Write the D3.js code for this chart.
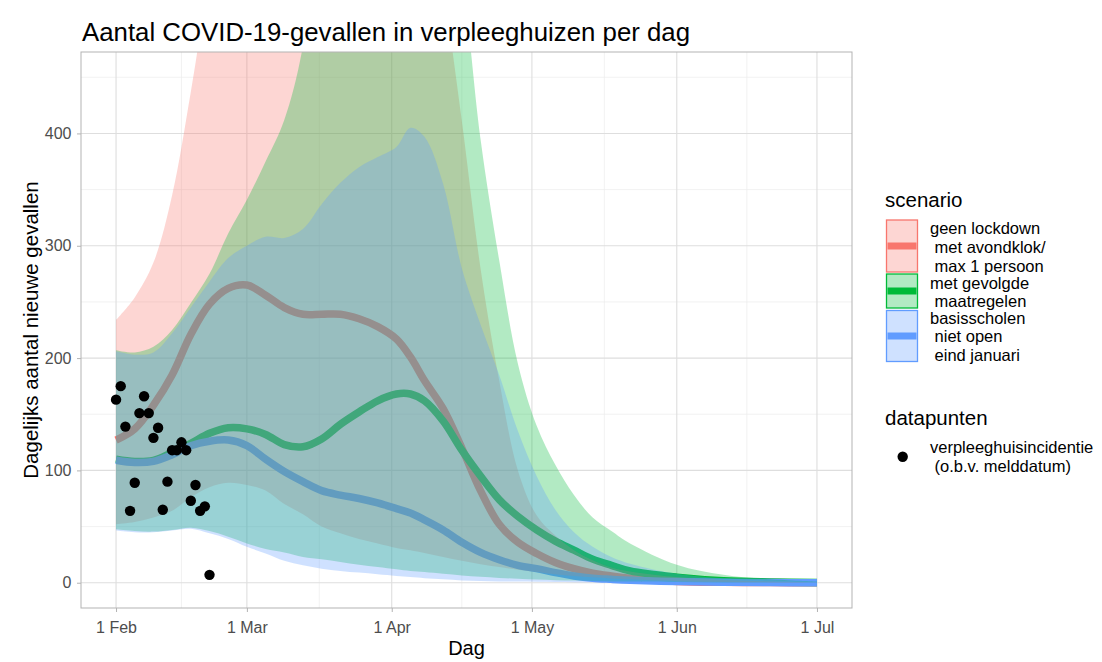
<!DOCTYPE html>
<html>
<head>
<meta charset="utf-8">
<script src="https://cdn.jsdelivr.net/npm/d3@7"></script>
<style>
  body { margin: 0; background: #fff; }
  svg { font-family: "Liberation Sans", Arial, Helvetica, sans-serif; }
</style>
</head>
<body>
<svg id="chart"></svg>
<script>
let width = 1102,
  height = 662;

// dagen na 1 februari 2021
const days = [0, 4, 8, 12, 16, 20, 24, 28, 32, 36, 40, 44, 48, 52, 56, 60, 63, 66,
  70, 74, 78, 82, 86, 90, 94, 98, 102, 106, 110, 120, 130, 140, 150];

// scenario: geen lockdown met avondklok / max 1 persoon
const redMean = [127, 137, 158, 185, 221, 248, 262, 265, 256, 245, 239, 239, 239, 235, 228, 217, 201, 180,
  155, 120, 82, 52, 36, 26, 18, 12.5, 8.5, 6, 4, 1.2, 0.4, 0.1, 0];
const redLow = [52, 54, 58, 64, 76, 85, 89, 87, 82, 70, 61, 50, 44, 39, 35, 31, 29, 26.5,
  23, 19.5, 16.5, 14, 11.5, 9.5, 7.5, 6, 4.8, 3.8, 3, 1.4, 0.6, 0.3, 0.1];
const redHigh = [234, 254, 285, 345, 437, 540, 620, 620, 620, 620, 620, 620, 620, 620, 620, 620, 620, 620,
  530, 411, 280, 180, 100, 60, 42, 29, 20, 13.5, 10, 5, 2.5, 1.2, 0.5];

// scenario: met gevolgde maatregelen
const greenMean = [110, 108, 109, 116, 124, 133, 138, 137, 132, 123, 121, 128, 141, 152, 162, 168, 168, 162,
  144, 118, 95, 74, 59, 47, 37, 29, 21, 15.5, 10.5, 5, 1.8, 0.7, 0.2];
const greenLow = [47.5, 46, 45.5, 47, 49, 46, 41, 35, 30, 27, 23, 21, 18.5, 16, 14, 12, 10.5, 9.5,
  8, 6.5, 5.3, 4.3, 3.5, 2.8, 2.3, 1.9, 1.5, 1.2, 1, 0.6, 0.3, 0.15, 0.05];
const greenHigh = [207, 205, 210, 225, 249, 275, 311, 341, 375, 412, 478, 620, 620, 620, 620, 620, 620, 620,
  620, 540, 395, 287, 195, 140, 105, 78, 58, 46, 35, 16, 7, 3, 1];

// scenario: basisscholen niet open eind januari
const blueMean = [109, 107, 108, 114, 122, 126, 127, 122, 110, 99, 90, 82, 78, 75, 71, 66, 62, 56,
  47, 36, 27, 20.5, 15.5, 12.5, 9, 6, 4, 3, 2.2, 1, 0.4, 0.15, 0];
const blueLow = [46.5, 45, 45, 46.5, 48, 44, 39, 32, 26, 19.5, 15.5, 12.5, 10.5, 9, 7.5, 6, 5, 4,
  3, 2, 1.5, 1.2, 1, 0.8, 0.6, 0.5, 0.4, 0.3, 0.2, 0.1, 0.05, 0, 0];
const blueHigh = [206, 203, 205, 222, 245, 268, 289, 300, 308, 307, 315, 337, 356, 370, 379, 388, 405, 397,
  355, 280, 230, 185, 135, 95, 65, 45, 32, 23, 17, 8, 4, 2, 1];

// datapunten: verpleeghuisincidentie (o.b.v. melddatum)
const pointDays = [0, 1, 2, 3, 4, 5, 6, 7, 8, 9, 10, 11, 12, 13, 14, 15, 16, 17, 18, 19, 20];
const pointValues = [163, 175, 139, 64, 89, 151, 166, 151, 129, 138, 65, 90, 118, 118, 125, 118,
  73, 87, 64, 68, 7];

const scenarioLabels = [
  ["geen lockdown", " met avondklok/", " max 1 persoon"],
  ["met gevolgde", " maatregelen"],
  ["basisscholen", " niet open", " eind januari"],
];
const scenarioColors = ["#F8766D", "#00BA38", "#619CFF"];

const xTickDates = ["2021-02-01", "2021-03-01", "2021-04-01", "2021-05-01", "2021-06-01", "2021-07-01"];
const xTickLabels = ["1 Feb", "1 Mar", "1 Apr", "1 May", "1 Jun", "1 Jul"];
const yTicks = [0, 100, 200, 300, 400];
const yMinor = [50, 150, 250, 350, 450];

const series = [
  { mean: redMean, low: redLow, high: redHigh },
  { mean: greenMean, low: greenLow, high: greenHigh },
  { mean: blueMean, low: blueLow, high: blueHigh },
];

const feb1 = Date.UTC(2021, 1, 1);
const dayDate = (d) => new Date(feb1 + d * 864e5);

let svg = d3.select("#chart").attr("width", width).attr("height", height);

const panel = { left: 81, right: 852, top: 52, bottom: 608 };

let x = d3
  .scaleUtc()
  .domain([dayDate(-7.5), dayDate(157.5)])
  .range([panel.left, panel.right]);
let y = d3
  .scaleLinear()
  .domain([-22.5, 472.5])
  .range([panel.bottom, panel.top]);

const majorX = xTickDates.map((s) => new Date(s + "T00:00:00Z"));
const minorX = d3.pairs(majorX).map(([a, b]) => new Date((+a + +b) / 2));

// Grid
let grid = svg.append("g").attr("id", "grid");
grid
  .selectAll(".minx")
  .data(minorX)
  .enter()
  .append("line")
  .attr("x1", (d) => x(d))
  .attr("x2", (d) => x(d))
  .attr("y1", panel.top)
  .attr("y2", panel.bottom)
  .attr("stroke", "#ececec")
  .attr("stroke-width", 0.7);
grid
  .selectAll(".miny")
  .data(yMinor)
  .enter()
  .append("line")
  .attr("x1", panel.left)
  .attr("x2", panel.right)
  .attr("y1", (d) => y(d))
  .attr("y2", (d) => y(d))
  .attr("stroke", "#ececec")
  .attr("stroke-width", 0.7);
grid
  .selectAll(".majx")
  .data(majorX)
  .enter()
  .append("line")
  .attr("x1", (d) => x(d))
  .attr("x2", (d) => x(d))
  .attr("y1", panel.top)
  .attr("y2", panel.bottom)
  .attr("stroke", "#dedede")
  .attr("stroke-width", 1.1);
grid
  .selectAll(".majy")
  .data(yTicks)
  .enter()
  .append("line")
  .attr("x1", panel.left)
  .attr("x2", panel.right)
  .attr("y1", (d) => y(d))
  .attr("y2", (d) => y(d))
  .attr("stroke", "#dedede")
  .attr("stroke-width", 1.1);

// Clip
svg
  .append("defs")
  .append("clipPath")
  .attr("id", "clip")
  .append("rect")
  .attr("x", panel.left)
  .attr("y", panel.top)
  .attr("width", panel.right - panel.left)
  .attr("height", panel.bottom - panel.top);

let plot = svg.append("g").attr("clip-path", "url(#clip)");

let line = d3
  .line()
  .x((d, i) => x(dayDate(days[i])))
  .y((d) => y(d))
  .curve(d3.curveCatmullRom.alpha(0.5));

let area = d3
  .area()
  .x((d) => x(dayDate(d.day)))
  .y0((d) => y(d.low))
  .y1((d) => y(d.high))
  .curve(d3.curveCatmullRom.alpha(0.5));

// Lines first, ribbons on top (as in the original)
series.forEach((s, i) => {
  plot
    .append("path")
    .attr("d", line(s.mean))
    .attr("fill", "none")
    .attr("stroke", scenarioColors[i])
    .attr("stroke-width", 7.5);
});

series.forEach((s, i) => {
  let rows = days.map((d, j) => ({ day: d, low: s.low[j], high: s.high[j] }));
  plot
    .append("path")
    .attr("d", area(rows))
    .attr("fill", scenarioColors[i])
    .attr("fill-opacity", 0.3);
});

// Data points
svg
  .append("g")
  .selectAll("circle")
  .data(pointDays)
  .enter()
  .append("circle")
  .attr("cx", (d) => x(dayDate(d)))
  .attr("cy", (d, i) => y(pointValues[i]))
  .attr("r", 5.2)
  .attr("fill", "black");

// Panel border
svg
  .append("rect")
  .attr("x", panel.left)
  .attr("y", panel.top)
  .attr("width", panel.right - panel.left)
  .attr("height", panel.bottom - panel.top)
  .attr("fill", "none")
  .attr("stroke", "#b3b3b3")
  .attr("stroke-width", 1);

// Axes
let xAxis = svg
  .append("g")
  .attr("transform", "translate(0," + panel.bottom + ")")
  .call(
    d3
      .axisBottom(x)
      .tickValues(majorX)
      .tickFormat((d, i) => xTickLabels[i])
      .tickSize(4)
      .tickPadding(10)
  );
let yAxis = svg
  .append("g")
  .attr("transform", "translate(" + panel.left + ",0)")
  .call(d3.axisLeft(y).tickValues(yTicks).tickSize(4).tickPadding(5.5));

[xAxis, yAxis].forEach((a) => {
  a.select(".domain").remove();
  a.selectAll(".tick line").attr("stroke", "#b3b3b3");
  a.selectAll(".tick text")
    .attr("fill", "#4d4d4d")
    .style("font-size", "16px")
    .style("font-family", "'Liberation Sans', Arial, sans-serif");
});

// Titles
svg
  .append("text")
  .attr("x", 82)
  .attr("y", 41)
  .style("font-size", "25.8px")
  .text("Aantal COVID-19-gevallen in verpleeghuizen per dag");

svg
  .append("text")
  .attr("x", (panel.left + panel.right) / 2)
  .attr("y", 655)
  .attr("text-anchor", "middle")
  .style("font-size", "20px")
  .text("Dag");

svg
  .append("text")
  .attr("transform", "translate(38," + (panel.top + panel.bottom) / 2 + ") rotate(-90)")
  .attr("text-anchor", "middle")
  .style("font-size", "20.5px")
  .text("Dagelijks aantal nieuwe gevallen");

// Legend
let legend = svg.append("g").attr("id", "legend");
legend
  .append("text")
  .attr("x", 885)
  .attr("y", 207)
  .style("font-size", "20.5px")
  .text("scenario");

const keyTops = [220, 274, 310.5];
const keyHeights = [52, 34, 51];
const labelBase = [[234.3, 253, 271.5], [288.5, 307], [323.5, 342, 360.5]];

scenarioLabels.forEach((lines, i) => {
  legend
    .append("rect")
    .attr("x", 886.5)
    .attr("y", keyTops[i])
    .attr("width", 31)
    .attr("height", keyHeights[i])
    .attr("fill", scenarioColors[i])
    .attr("fill-opacity", 0.3)
    .attr("stroke", scenarioColors[i])
    .attr("stroke-width", 1.3);
  legend
    .append("line")
    .attr("x1", 887.5)
    .attr("x2", 916.5)
    .attr("y1", keyTops[i] + keyHeights[i] / 2)
    .attr("y2", keyTops[i] + keyHeights[i] / 2)
    .attr("stroke", scenarioColors[i])
    .attr("stroke-width", 7);
  lines.forEach((t, j) => {
    legend
      .append("text")
      .attr("x", 930)
      .attr("y", labelBase[i][j])
      .style("font-size", "16.5px")
      .style("white-space", "pre")
      .text(t);
  });
});

legend
  .append("text")
  .attr("x", 885)
  .attr("y", 425)
  .style("font-size", "20.5px")
  .text("datapunten");
legend
  .append("circle")
  .attr("cx", 902.7)
  .attr("cy", 456.7)
  .attr("r", 5.2)
  .attr("fill", "black");
["verpleeghuisincidentie", " (o.b.v. melddatum)"].forEach((t, j) => {
  legend
    .append("text")
    .attr("x", 930)
    .attr("y", 453.3 + j * 18.4)
    .style("font-size", "16.5px")
    .style("white-space", "pre")
    .text(t);
});
</script>
</body>
</html>
